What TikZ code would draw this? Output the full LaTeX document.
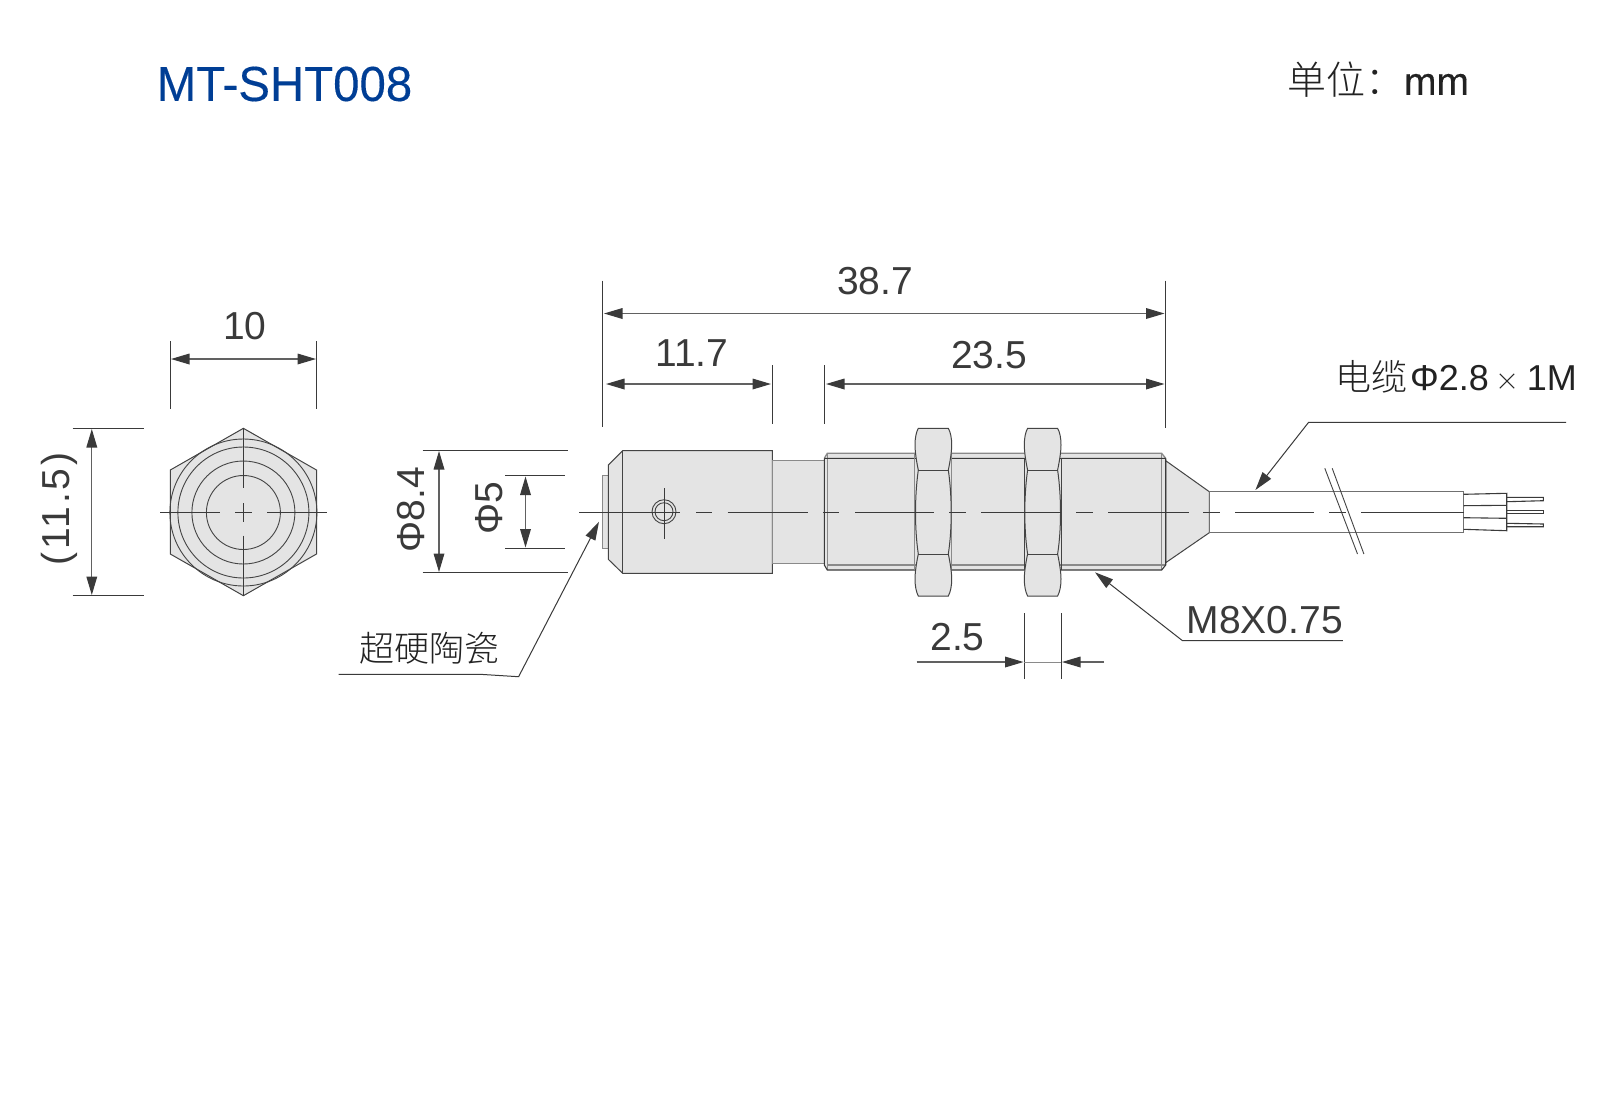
\documentclass[tikz,border=0pt]{standalone}
\usepackage{fontspec}
\setmainfont{Liberation Sans}
\newfontfamily\cjk{Noto Sans CJK SC Light}
\newfontfamily\spaced[LetterSpace=7]{Liberation Sans}
\newfontfamily\heavy[FakeBold=0.25]{Liberation Sans}
\usetikzlibrary{arrows.meta}
\definecolor{ink}{HTML}{3A3A3A}
\definecolor{cjkink}{HTML}{222222}
\definecolor{body}{HTML}{E4E4E4}
\definecolor{titleblue}{HTML}{003E95}
\definecolor{edge}{HTML}{444444}
\definecolor{soft}{HTML}{8A8A8A}
\definecolor{cableedge}{HTML}{707070}
\newcommand{\fsz}[1]{\fontsize{#1}{#1}\selectfont}
\tikzset{
  x=1pt,y=-1pt,
  part/.style={draw=edge,line width=1pt,fill=body},
  thin line/.style={draw=edge,line width=0.9pt},
  soft line/.style={draw=soft,line width=1.3pt},
  cable line/.style={draw=cableedge,line width=1.3pt},
  wire/.style={draw=ink,line width=1.1pt},
  extline/.style={draw=ink,line width=0.9pt},
  dimline/.style={draw=ink!80,line width=1.1pt,{Triangle[length=18.5pt,width=10.7pt,color=ink]}-{Triangle[length=18.5pt,width=10.7pt,color=ink]}},
  oneway/.style={draw=ink!80,line width=1.1pt,-{Triangle[length=18.5pt,width=10.7pt,color=ink]}},
  leader/.style={draw=ink,line width=1pt,-{Triangle[length=18.5pt,width=10.7pt,color=ink]}},
  centre/.style={draw=ink,line width=0.8pt},
  dimtext/.style={text=ink,inner sep=0pt,font=\fsz{39}},
  cjktext/.style={text=cjkink,inner sep=0pt,font=\fsz{35}\cjk},
}
\newcommand{\nutshape}[1]{%
  \begin{scope}[shift={(#1,0)}]
    \path[part] (3.3,428.3) -- (33.3,428.3)
      .. controls (35.5,432) and (36.7,438) .. (36.7,445)
      .. controls (36.7,452) and (35,462) .. (33.3,470)
      .. controls (35.5,485) and (36.2,500) .. (36.2,512.7)
      .. controls (36.2,525) and (35.5,540) .. (33.3,554)
      .. controls (35,562) and (36.7,572) .. (36.7,579)
      .. controls (36.7,586) and (35.5,592) .. (33.3,596)
      -- (3.3,596)
      .. controls (1.2,592) and (0,586) .. (0,579)
      .. controls (0,572) and (1.6,562) .. (3.3,554)
      .. controls (1.2,540) and (0.5,525) .. (0.5,512.7)
      .. controls (0.5,500) and (1.2,485) .. (3.3,470)
      .. controls (1.6,462) and (0,452) .. (0,445)
      .. controls (0,438) and (1.2,432) .. (3.3,428.3) -- cycle;
    \draw[thin line] (3.3,470) -- (33.3,470) (3.3,554) -- (33.3,554);
  \end{scope}}
\begin{document}
\begin{tikzpicture}
\useasboundingbox (0,0) rectangle (1612,1112);
\fill[white] (0,0) rectangle (1612,1112);

% title and unit
\node[text=titleblue,inner sep=0pt,font=\fsz{49}\heavy,anchor=center,xscale=0.967,transform shape] (title) at (284.5,84) {MT-SHT008};
\node[text=cjkink,inner sep=0pt,anchor=center] (unit) at (1378,80) {\fsz{39}\cjk 单位：\heavy mm};

% hexagon end view
\path[part] (243.4,428.3) -- (316.5,470) -- (316.5,554) -- (243.4,595.7) -- (170.3,554) -- (170.3,470) -- cycle;
\foreach \r in {73.5,65.5,51.5,37}
  \draw[thin line] (243.4,512.5) circle[radius=\r];
\draw[centre] (160,512.5) -- (220,512.5) (235,512.5) -- (252,512.5) (267,512.5) -- (327,512.5)
  (243.4,428.3) -- (243.4,488.3) (243.4,503.3) -- (243.4,521.7) (243.4,535.7) -- (243.4,595.7);

% dimension 10
\draw[extline] (170.3,341) -- (170.3,409) (316.5,341) -- (316.5,409);
\draw[dimline] (171,359) -- (316,359);
\node[dimtext] (d10) at (245,326) {10};

% dimension (11.5)
\draw[extline] (72.7,428.3) -- (144,428.3) (72.7,595.7) -- (144,595.7);
\draw[dimline] (91.8,429) -- (91.8,595);
\node[dimtext,font=\fsz{39}\spaced,rotate=90] (d115) at (59,509) {(11.5)};

% dim phi 8.4
\draw[extline] (422.5,450.3) -- (567.5,450.3) (422.5,572.7) -- (567.5,572.7);
\draw[dimline] (439,451) -- (439,572);
\node[dimtext,rotate=90] (d84) at (411.4,509.5) {Φ8.4};

% dim phi 5
\draw[extline] (505,475.7) -- (565,475.7) (505,548.3) -- (565,548.3);
\draw[dimline] (525.5,476.5) -- (525.5,547.5);
\node[dimtext,rotate=90] (d5) at (488.7,508) {Φ5};

% sensor body
\path[part,draw=soft] (602.7,475.7) rectangle (608.3,548.3);
\path[part] (608.3,465) -- (622.7,450.7) -- (772.3,450.7) -- (772.3,573.3) -- (622.7,573.3) -- (608.3,559.3) -- cycle;
\draw[thin line] (622.7,450.7) -- (622.7,573.3);
\path[part,draw=soft,line width=1.3pt] (772.3,460.7) rectangle (824.3,563.3);
% threaded part
\path[part,draw=edge] (1165.7,460.7) -- (1209.3,491.7) -- (1209.3,532.7) -- (1165.7,562.7) -- cycle;
\path[fill=body] (824.3,458.3) -- (827.3,453.3) -- (1161.7,453.3) -- (1165.7,458.3) -- (1165.7,565) -- (1161.7,570) -- (827.3,570) -- (824.3,565) -- cycle;
\draw[soft line] (824.3,458.3) -- (827.3,453.3) -- (1161.7,453.3) -- (1165.7,458.3);
\draw[soft line] (827.3,453.3) -- (827.3,570) (1161.7,453.3) -- (1161.7,570) (827.3,565) -- (1165.7,565);
\draw[wire] (824.3,458.3) -- (1165.7,458.3) (1165.7,458.3) -- (1165.7,565) -- (1161.7,570) -- (827.3,570) -- (824.3,565) -- (824.3,458.3);
\draw[soft line] (914.3,453.3) -- (914.3,570) (951.7,453.3) -- (951.7,570);
\draw[thin line] (1024.3,458.3) -- (1024.3,570) (1061,458.3) -- (1061,570);
\nutshape{915}
\nutshape{1024.3}
% hole
\draw[thin line,fill=body] (664,511.7) circle[radius=12];
\draw[thin line] (664,511.7) circle[radius=9];
\draw[centre] (664,488) -- (664,539);

% cable
\path[cable line,fill=white] (1209.3,491.7) rectangle (1463.5,532.7);
\draw[wire] (1463.5,494.3) -- (1506.7,493.3) -- (1506.7,530.7) -- (1463.5,529.3);
\draw[wire] (1463.5,505.7) -- (1506.7,505.3) (1463.5,517.7) -- (1506.7,518.3);
\draw[wire] (1506.7,497.3) -- (1543.3,497.3) -- (1543.3,500.7) -- (1506.7,501.7);
\draw[wire] (1506.7,510.3) -- (1543.3,510.3) -- (1543.3,513.7) -- (1506.7,513.7);
\draw[wire] (1506.7,523.3) -- (1543.3,524) -- (1543.3,526.7) -- (1506.7,526.7);
\draw[thin line] (1324.8,468.3) -- (1357.5,554) (1332.2,468.3) -- (1363.9,554);

% centre line
\draw[centre] (579,512.7) -- (680,512.7)
  (696,512.7) -- (712,512.7) (727.7,512.7) -- (807.7,512.7)
  (823,512.7) -- (839,512.7) (855,512.7) -- (934,512.7)
  (949,512.7) -- (965.7,512.7) (981,512.7) -- (1061,512.7)
  (1076,512.7) -- (1093,512.7) (1108,512.7) -- (1188.5,512.7)
  (1203,512.7) -- (1220,512.7) (1235,512.7) -- (1314,512.7)
  (1329,512.7) -- (1346,512.7) (1361,512.7) -- (1464,512.7);

% length dimensions
\draw[extline] (602.7,280.6) -- (602.7,427.3) (1165.7,280.6) -- (1165.7,428.3)
  (772.3,365) -- (772.3,424) (824.3,365) -- (824.3,424);
\draw[dimline] (604,313.5) -- (1164.5,313.5);
\node[dimtext] (d387) at (875,281.5) {38.7};
\draw[dimline] (606,384) -- (771,384);
\node[dimtext] (d117) at (692,353) {11.7};
\draw[dimline] (826,384) -- (1164.5,384);
\node[dimtext] (d235) at (989,355) {23.5};

% dimension 2.5
\draw[extline] (1024.3,613.3) -- (1024.3,679.3) (1061,613.3) -- (1061,679.3);
\draw[oneway] (916.7,662) -- (1023.5,662);
\draw[oneway] (1104,662) -- (1062,662);
\draw[draw=soft,line width=1pt] (1024.3,662) -- (1061,662);
\node[dimtext] (d25) at (957.5,637) {2.5};

% leaders
\coordinate (ceramicTip) at (599,521.7);
\coordinate (ceramicKnee) at (518.6,676.7);
\draw[leader] (338.7,674.3) -- (480,674.3) -- (ceramicKnee) -- (ceramicTip);
\node[cjktext] (ceramic) at (429.5,648) {超硬陶瓷};

\coordinate (threadTip) at (1095,572.3);
\draw[leader] (1342.8,640.7) -- (1182.5,640.7) -- (threadTip);
\node[dimtext] (m8) at (1264.8,620) {M8X0.75};

\coordinate (cableTip) at (1255.4,490);
\draw[leader] (1566,422.3) -- (1308.6,422.3) -- (cableTip);
\node[text=cjkink,inner sep=0pt] (cablelabel) at (1456,377) {{\fsz{36}\cjk 电缆}\fsz{36}\kern3pt Φ2.8\kern7pt{\fsz{24}\cjk ×}\kern7pt 1M};
\end{tikzpicture}
\end{document}
